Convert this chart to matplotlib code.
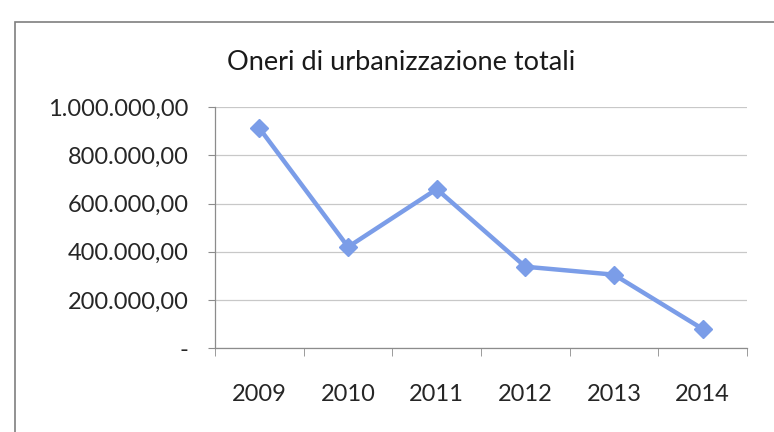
import matplotlib.pyplot as plt
from matplotlib.patches import Rectangle
from matplotlib.ticker import FuncFormatter, FixedLocator

anni = ['2009', '2010', '2011', '2012', '2013', '2014']
oneri = [912000, 420000, 660000, 338000, 305000, 80000]
y_ticks = [0, 200000, 400000, 600000, 800000, 1000000]

plt.rcParams['font.family'] = ['Lato', 'DejaVu Sans']

fig = plt.figure(figsize=(7.74, 4.32), dpi=100)
ax = fig.add_axes([0.278, 0.194, 0.687, 0.558])

# bordo del grafico
fig.patches.append(Rectangle((0.02, -0.01), 1.0, 0.96, transform=fig.transFigure,
                             fill=False, edgecolor='#7f7f7f', linewidth=1.2))

x = list(range(len(anni)))
ax.plot(x, oneri, color='#7b9de8', linewidth=3.2, marker='D', markersize=9,
        markerfacecolor='#7b9de8', markeredgecolor='#7b9de8')

ax.set_xlim(-0.5, len(anni) - 0.5)
ax.set_ylim(0, 1000000)


def fmt(v, pos):
    if v == 0:
        return '-'
    s = f'{v:,.2f}'
    return s.replace(',', 'X').replace('.', ',').replace('X', '.')


ax.yaxis.set_major_locator(FixedLocator(y_ticks))
ax.yaxis.set_major_formatter(FuncFormatter(fmt))
ax.grid(axis='y', color='#c8c8c8', linewidth=0.9)
ax.set_axisbelow(True)

ax.set_xticks(x)
ax.set_xticklabels(anni)
ax.set_xticks([i - 0.5 for i in range(len(anni) + 1)], minor=True)
ax.tick_params(axis='x', which='major', length=0, pad=26, labelsize=17, labelcolor='#262626')
ax.tick_params(axis='x', which='minor', length=6, color='#8c8c8c')
ax.tick_params(axis='y', length=5, color='#8c8c8c', pad=14, labelsize=17, labelcolor='#262626')

for side in ['top', 'right']:
    ax.spines[side].set_visible(False)
for side in ['left', 'bottom']:
    ax.spines[side].set_color('#8c8c8c')
    ax.spines[side].set_linewidth(0.9)

fig.text(0.518, 0.855, 'Oneri di urbanizzazione totali', ha='center', va='center',
         fontsize=19.5, color='#1a1a1a')

fig.savefig('out.png', dpi=100)
